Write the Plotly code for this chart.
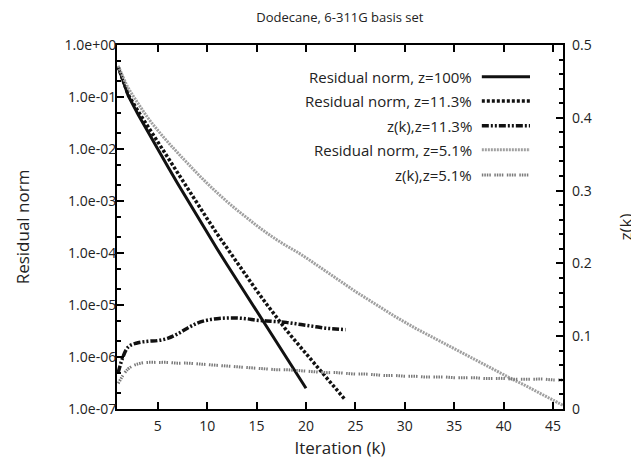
import plotly.graph_objects as go

# ---------------- data ----------------
k_100 = list(range(1, 21))
res_100 = [-0.42, -0.97, -1.33, -1.67, -2.00, -2.33, -2.66, -2.98, -3.30, -3.61,
           -3.92, -4.22, -4.52, -4.81, -5.11, -5.40, -5.70, -6.00, -6.30, -6.60]  # log10

k_113 = list(range(1, 25))
res_113 = [-0.42, -0.95, -1.27, -1.57, -1.87, -2.17, -2.47, -2.76, -3.05, -3.34,
           -3.63, -3.91, -4.18, -4.45, -4.72, -4.98, -5.24, -5.48, -5.71, -5.93,
           -6.15, -6.38, -6.60, -6.83]
z_113 = [0.050, 0.085, 0.091, 0.093, 0.094, 0.097, 0.103, 0.111, 0.118, 0.122,
         0.124, 0.125, 0.125, 0.124, 0.122, 0.121, 0.120, 0.119, 0.117, 0.115,
         0.113, 0.111, 0.110, 0.109]

k_51 = list(range(1, 47))
res_51 = [-0.40, -0.82, -1.12, -1.40, -1.64, -1.86, -2.07, -2.27, -2.47, -2.66,
          -2.84, -3.01, -3.17, -3.32, -3.47, -3.61, -3.74, -3.86, -3.97, -4.09,
          -4.22, -4.35, -4.48, -4.61, -4.74, -4.86, -4.98, -5.10, -5.22, -5.33,
          -5.44, -5.54, -5.64, -5.74, -5.84, -5.94, -6.04, -6.14, -6.24, -6.34,
          -6.44, -6.53, -6.63, -6.73, -6.83, -6.93]
z_51 = [0.035, 0.055, 0.062, 0.064, 0.064, 0.064, 0.063, 0.063, 0.062, 0.061,
        0.060, 0.059, 0.058, 0.057, 0.056, 0.055, 0.054, 0.054, 0.053, 0.052,
        0.051, 0.050, 0.050, 0.049, 0.048, 0.048, 0.047, 0.046, 0.046, 0.045,
        0.045, 0.044, 0.044, 0.044, 0.043, 0.043, 0.043, 0.042, 0.042, 0.042,
        0.041, 0.041, 0.041, 0.041, 0.040, 0.040]

y_tickvals = [1e0, 1e-1, 1e-2, 1e-3, 1e-4, 1e-5, 1e-6, 1e-7]
y_ticktext = ["1.0e+00", "1.0e-01", "1.0e-02", "1.0e-03", "1.0e-04",
              "1.0e-05", "1.0e-06", "1.0e-07"]
x_tickvals = [5, 10, 15, 20, 25, 30, 35, 40, 45]
y2_tickvals = [0, 0.1, 0.2, 0.3, 0.4, 0.5]
y2_ticktext = ["0", "0.1", "0.2", "0.3", "0.4", "0.5"]

legend_names = ["Residual norm, z=100%", "Residual norm, z=11.3%", "z(k),z=11.3%",
                "Residual norm, z=5.1%", "z(k),z=5.1%"]

# ---------------- styles ----------------
FONT = "Open Sans"
TXT = "#222222"
BLACK = "#111111"
GRAY_L = "#a0a0a0"
GRAY_D = "#7a7a7a"
styles = [
    dict(color=BLACK, width=3, dash="solid"),
    dict(color=BLACK, width=3.5, dash="3px,2px"),
    dict(color=BLACK, width=3.5, dash="7px,2px,2px,2px,2px,2px"),
    dict(color=GRAY_L, width=3, dash="2px,1px"),
    dict(color=GRAY_D, width=3, dash="1.5px,1px,1.5px,1px,1.5px,1px,1.5px,3.5px"),
]

fig = go.Figure()
fig.add_trace(go.Scatter(x=k_100, y=[10 ** v for v in res_100], mode="lines",
                         line=styles[0], name=legend_names[0]))
fig.add_trace(go.Scatter(x=k_113, y=[10 ** v for v in res_113], mode="lines",
                         line=styles[1], name=legend_names[1]))
fig.add_trace(go.Scatter(x=k_113, y=z_113, mode="lines", yaxis="y2",
                         line=dict(**styles[2], shape="spline"), name=legend_names[2]))
fig.add_trace(go.Scatter(x=k_51, y=[10 ** v for v in res_51], mode="lines",
                         line=dict(**styles[3], shape="spline"), name=legend_names[3]))
fig.add_trace(go.Scatter(x=k_51, y=z_51, mode="lines", yaxis="y2",
                         line=dict(**styles[4], shape="spline"), name=legend_names[4]))

# custom legend: right-aligned text with sample line on the right
leg_y = [0.913, 0.846, 0.778, 0.712, 0.643]
shapes = []
annotations = []
for name, st, yy in zip(legend_names, styles, leg_y):
    annotations.append(dict(xref="paper", yref="paper", x=0.80, y=yy, text=name,
                            showarrow=False, xanchor="right", yanchor="middle",
                            font=dict(family=FONT, size=15, color=TXT)))
    shapes.append(dict(type="line", xref="paper", yref="paper", x0=0.818, x1=0.926,
                       y0=yy, y1=yy, line=st))

# the page body adds an 8px margin, so the figure is 8px smaller than the window
fig.update_layout(
    width=631, height=451,
    margin=dict(l=109, r=76, t=37, b=50, autoexpand=False),
    paper_bgcolor="white", plot_bgcolor="white",
    showlegend=False,
    font=dict(family=FONT, size=14, color=TXT),
    title=dict(text="Dodecane, 6-311G basis set", x=0.526, xanchor="center",
               y=0.978, yanchor="middle", font=dict(family=FONT, size=13, color=TXT)),
    xaxis=dict(range=[0.88, 46], tickvals=x_tickvals, ticks="inside", ticklen=7,
               tickwidth=1.5, tickcolor="black", showline=True, linecolor="black",
               linewidth=2, mirror="ticks", showgrid=False, zeroline=False,
               automargin=False, ticklabelstandoff=3,
               title=dict(text="Iteration (k)", standoff=18),
               tickfont=dict(size=14)),
    yaxis=dict(type="log", range=[-7, 0], tickvals=y_tickvals, ticktext=y_ticktext,
               ticks="inside", ticklen=7, tickwidth=1.5, tickcolor="black",
               showline=True, linecolor="black", linewidth=2, mirror=True,
               showgrid=False, zeroline=False, automargin=False,
               ticklabelstandoff=-4,
               minor=dict(ticks="inside", ticklen=4, tickcolor="black", showgrid=False),
               title=dict(text="Residual norm", standoff=31),
               tickfont=dict(size=14)),
    yaxis2=dict(overlaying="y", side="right", range=[0, 0.5], tickvals=y2_tickvals,
                ticktext=y2_ticktext, ticks="inside", ticklen=7, tickwidth=1.5,
                tickcolor="black", showline=False, showgrid=False, zeroline=False,
                automargin=False, ticklabelstandoff=8,
                minor=dict(ticks="inside", ticklen=4, dtick=0.02, tickcolor="black"),
                title=dict(text="z(k)", standoff=29), tickfont=dict(size=14)),
    shapes=shapes,
    annotations=annotations,
)

fig.write_html("out.html")
